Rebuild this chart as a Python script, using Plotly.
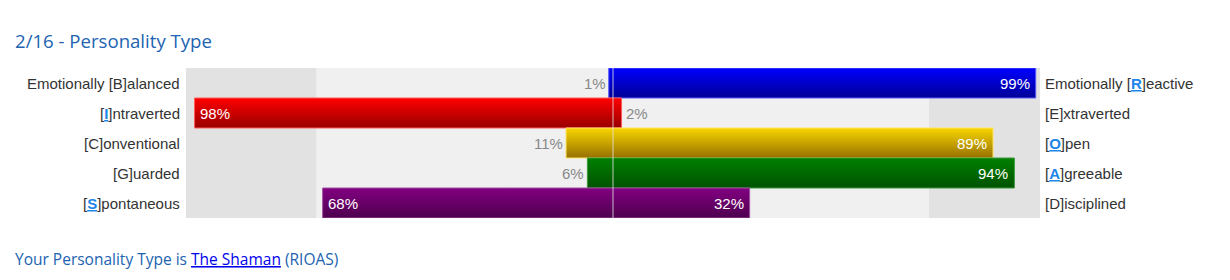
import plotly.graph_objects as go

# ---- data ----
left_labels = ["Emotionally [B]alanced", "[I]ntraverted", "[C]onventional", "[G]uarded", "[S]pontaneous"]
right_labels = ["Emotionally [R]eactive", "[E]xtraverted", "[O]pen", "[A]greeable", "[D]isciplined"]
left_values = [1, 98, 11, 6, 68]
right_values = [99, 2, 89, 94, 32]
left_highlight = [False, True, False, False, True]
right_highlight = [True, False, True, True, False]
top_colors = ["#0000ff", "#ff0000", "#f8d600", "#008000", "#820082"]
bottom_colors = ["#000096", "#980000", "#967000", "#005200", "#4e004e"]
border_colors = ["#5a5aff", "#ff5a5a", "#ffe566", "#3a9a3a", "#a050a0"]
title_text = "2/16 - Personality Type"
type_name = "The Shaman"
type_code = "RIOAS"
band_left = -69.5
band_right = 74
inside_threshold = 20

TITLE_BLUE = "#2163b1"
HL_BLUE = "#1b85e8"
LABEL_FONT = "Liberation Sans, Arial, sans-serif"
TITLE_FONT = "Open Sans, sans-serif"


def fmt_label(label, highlight):
    if not highlight:
        return label
    i = label.index("[")
    j = label.index("]")
    letter = label[i + 1:j]
    return (label[:i + 1] + f"<span style='color:{HL_BLUE}'><b><u>{letter}</u></b></span>" + label[j:])


fig = go.Figure()

n = len(left_values)
for i in range(n):
    L = left_values[i]
    R = right_values[i]
    y0, y1 = i - 0.5, i + 0.5
    fig.add_trace(go.Scatter(
        x=[-L, R, R, -L, -L],
        y=[y0, y0, y1, y1, y0],
        mode="lines",
        fill="toself",
        fillgradient=dict(type="vertical", start=y0, stop=y1,
                          colorscale=[[0, top_colors[i]], [1, bottom_colors[i]]]),
        line=dict(color=border_colors[i], width=1),
        hoverinfo="skip",
        showlegend=False,
    ))

shapes = [
    dict(type="rect", xref="x", yref="paper", x0=-100, x1=band_left, y0=0, y1=1,
         fillcolor="#e2e2e2", line_width=0, layer="below"),
    dict(type="rect", xref="x", yref="paper", x0=band_right, x1=100, y0=0, y1=1,
         fillcolor="#e2e2e2", line_width=0, layer="below"),
    dict(type="line", xref="x", yref="paper", x0=0, x1=0, y0=0, y1=1,
         line=dict(color="rgba(225,225,225,0.55)", width=1.5), layer="above"),
]

annotations = []
for i in range(n):
    L = left_values[i]
    R = right_values[i]
    # side labels
    annotations.append(dict(x=0, xref="paper", y=i, yref="y", xanchor="right", yanchor="middle",
                            text=fmt_label(left_labels[i], left_highlight[i]), showarrow=False,
                            xshift=-4, font=dict(family=LABEL_FONT, size=15, color="#333333")))
    annotations.append(dict(x=1, xref="paper", y=i, yref="y", xanchor="left", yanchor="middle",
                            text=fmt_label(right_labels[i], right_highlight[i]), showarrow=False,
                            xshift=3, font=dict(family=LABEL_FONT, size=15, color="#333333")))
    # percentages
    if L >= inside_threshold:
        annotations.append(dict(x=-L, y=i, xanchor="left", yanchor="middle", text=f"{L}%", showarrow=False,
                                xshift=3, font=dict(family=LABEL_FONT, size=15, color="white")))
    else:
        annotations.append(dict(x=-L, y=i, xanchor="right", yanchor="middle", text=f"{L}%", showarrow=False,
                                xshift=-1, font=dict(family=LABEL_FONT, size=15, color="#888888")))
    if R >= inside_threshold:
        annotations.append(dict(x=R, y=i, xanchor="right", yanchor="middle", text=f"{R}%", showarrow=False,
                                xshift=-4, font=dict(family=LABEL_FONT, size=15, color="white")))
    else:
        annotations.append(dict(x=R, y=i, xanchor="left", yanchor="middle", text=f"{R}%", showarrow=False,
                                xshift=2, font=dict(family=LABEL_FONT, size=15, color="#888888")))

annotations.append(dict(x=0, xref="paper", y=1, yref="paper", xanchor="left", yanchor="middle",
                        text=title_text, showarrow=False, xshift=-173, yshift=28,
                        font=dict(family=TITLE_FONT, size=18.6, color=TITLE_BLUE)))
annotations.append(dict(x=0, xref="paper", y=0, yref="paper", xanchor="left", yanchor="middle",
                        text=(f"Your Personality Type is <span style='color:#0000ee'><u>{type_name}</u></span>"
                              f" ({type_code})"),
                        showarrow=False, xshift=-173, yshift=-41,
                        font=dict(family=TITLE_FONT, size=15.5, color=TITLE_BLUE)))

fig.update_layout(
    width=1230, height=280,
    margin=dict(l=186, r=190, t=68, b=62, pad=0),
    paper_bgcolor="white",
    plot_bgcolor="#f0f0f0",
    xaxis=dict(range=[-100, 100], showgrid=False, zeroline=False, showticklabels=False,
               fixedrange=True, showline=False),
    yaxis=dict(range=[n - 0.5, -0.5], showgrid=False, zeroline=False, showticklabels=False,
               fixedrange=True, showline=False),
    shapes=shapes,
    annotations=annotations,
    showlegend=False,
)

fig.write_html("out.html", config={"displayModeBar": False})
